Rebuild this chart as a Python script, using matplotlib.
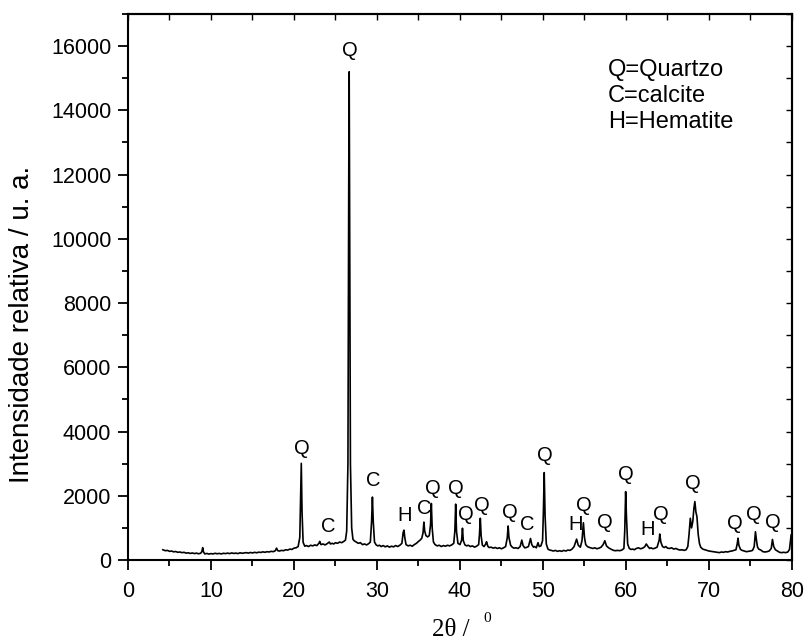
import matplotlib
matplotlib.use('Agg')
import matplotlib.pyplot as plt
import numpy as np
from matplotlib.ticker import MultipleLocator

# XRD pattern (2theta in degrees, intensity in a.u.)
two_theta = [
    4.2, 4.5, 4.75, 5.0, 5.25, 5.5, 5.75, 6.0, 6.25, 6.5, 6.75, 7.0, 7.25, 7.5, 7.75,
    8.0, 8.25, 8.5, 8.75, 8.9, 9.0, 9.1, 9.25, 9.5, 9.75, 10.0, 10.25, 10.5, 10.75,
    11.0, 11.25, 11.5, 11.75, 12.0, 12.25, 12.5, 12.75, 13.0, 13.25, 13.5, 13.75,
    14.0, 14.25, 14.5, 14.75, 15.0, 15.25, 15.5, 15.75, 16.0, 16.25, 16.5, 16.75,
    17.0, 17.25, 17.5, 17.75, 17.9, 18.05, 18.25, 18.5, 18.75, 19.0, 19.25, 19.5,
    19.75, 20.0, 20.25, 20.5, 20.7, 20.8, 20.88, 20.97, 21.1, 21.3, 21.5, 21.75,
    22.0, 22.25, 22.5, 22.75, 23.0, 23.1, 23.25, 23.5, 23.75, 24.0, 24.25, 24.4,
    24.6, 24.8, 25.0, 25.25, 25.5, 25.75, 26.0, 26.2, 26.35, 26.5, 26.6, 26.65,
    26.72, 26.8, 26.95, 27.1, 27.25, 27.5, 27.75, 28.0, 28.25, 28.5, 28.75, 29.0,
    29.2, 29.35, 29.45, 29.55, 29.7, 29.9, 30.1, 30.3, 30.5, 30.75, 31.0, 31.25,
    31.5, 31.75, 32.0, 32.25, 32.5, 32.75, 33.0, 33.15, 33.25, 33.35, 33.5, 33.75,
    34.0, 34.25, 34.5, 34.75, 35.0, 35.2, 35.4, 35.55, 35.65, 35.75, 35.9, 36.1,
    36.3, 36.45, 36.55, 36.65, 36.8, 37.0, 37.25, 37.5, 37.75, 38.0, 38.25, 38.5,
    38.75, 39.0, 39.25, 39.38, 39.48, 39.58, 39.75, 40.0, 40.2, 40.3, 40.4, 40.6,
    40.8, 41.0, 41.25, 41.5, 41.75, 42.0, 42.25, 42.35, 42.45, 42.55, 42.7, 42.9,
    43.1, 43.2, 43.35, 43.5, 43.75, 44.0, 44.25, 44.5, 44.75, 45.0, 45.25, 45.5,
    45.7, 45.8, 45.9, 46.1, 46.3, 46.5, 46.75, 47.0, 47.25, 47.45, 47.6, 47.8,
    48.0, 48.25, 48.5, 48.65, 48.85, 49.0, 49.2, 49.4, 49.55, 49.75, 49.95, 50.05,
    50.15, 50.25, 50.4, 50.6, 50.8, 51.0, 51.25, 51.5, 51.75, 52.0, 52.25, 52.5,
    52.75, 53.0, 53.25, 53.5, 53.75, 54.05, 54.25, 54.5, 54.7, 54.87, 55.0, 55.15,
    55.35, 55.5, 55.75, 56.0, 56.25, 56.5, 56.75, 57.0, 57.25, 57.45, 57.65, 57.9,
    58.25, 58.5, 58.75, 59.0, 59.25, 59.5, 59.75, 59.85, 59.96, 60.05, 60.2, 60.4,
    60.6, 60.8, 61.0, 61.25, 61.5, 61.75, 62.0, 62.25, 62.45, 62.65, 62.85, 63.0,
    63.25, 63.5, 63.75, 64.0, 64.07, 64.2, 64.4, 64.6, 64.8, 65.0, 65.25, 65.5,
    65.75, 66.0, 66.25, 66.5, 66.75, 67.0, 67.25, 67.45, 67.6, 67.75, 67.9, 68.05,
    68.18, 68.3, 68.42, 68.55, 68.7, 68.85, 69.0, 69.25, 69.5, 69.75, 70.0, 70.25,
    70.5, 70.75, 71.0, 71.25, 71.5, 71.75, 72.0, 72.25, 72.5, 72.75, 73.0, 73.25,
    73.4, 73.5, 73.6, 73.8, 74.0, 74.25, 74.5, 74.75, 75.0, 75.25, 75.45, 75.6,
    75.72, 75.85, 76.0, 76.25, 76.5, 76.75, 77.0, 77.25, 77.5, 77.65, 77.8, 78.0,
    78.25, 78.5, 78.75, 79.0, 79.25, 79.5, 79.7, 79.9,
]
intensity = [
    320, 290, 300, 270, 280, 255, 265, 240, 250, 230, 240, 215, 225, 205, 220,
    200, 215, 195, 210, 260, 385, 250, 190, 205, 185, 200, 190, 210, 195,
    205, 190, 210, 200, 215, 200, 220, 205, 215, 200, 225, 210,
    220, 230, 215, 235, 220, 240, 225, 245, 235, 255, 240, 260,
    250, 270, 260, 290, 370, 290, 280, 300, 290, 320, 310, 340,
    330, 370, 380, 420, 700, 1900, 3010, 1500, 550, 430, 450, 420,
    460, 440, 470, 450, 520, 580, 480, 500, 470, 510, 560, 500,
    520, 500, 540, 520, 560, 540, 580, 620, 900, 3000, 12000, 15200,
    9000, 3000, 1000, 650, 600, 560, 520, 540, 480, 500, 470, 510,
    560, 1200, 1960, 1200, 560, 470, 440, 460, 420, 450, 410, 440,
    400, 430, 410, 450, 420, 460, 520, 850, 930, 700, 480, 440,
    460, 430, 480, 520, 580, 620, 680, 850, 1180, 900, 760, 720,
    760, 1100, 1760, 1000, 560, 480, 440, 460, 420, 450, 430, 460,
    440, 470, 520, 900, 1740, 900, 520, 480, 620, 990, 600, 470,
    440, 460, 420, 440, 400, 430, 480, 800, 1300, 750, 460, 420,
    500, 570, 430, 390, 400, 370, 390, 360, 380, 350, 380, 420,
    700, 1060, 700, 460, 400, 370, 380, 360, 420, 620, 450, 380,
    390, 420, 670, 480, 400, 420, 380, 540, 420, 440, 600, 1500,
    2720, 1400, 500, 340, 310, 300, 280, 300, 270, 290, 270, 300,
    280, 310, 300, 340, 420, 650, 460, 400, 600, 1160, 700, 480,
    420, 400, 380, 360, 380, 350, 370, 400, 480, 600, 440, 380,
    330, 300, 290, 300, 290, 310, 360, 900, 2130, 1400, 500, 360,
    330, 340, 320, 360, 380, 350, 370, 410, 500, 420, 360, 380,
    350, 370, 400, 620, 810, 560, 420, 390, 420, 370, 360, 380,
    340, 360, 330, 310, 320, 300, 320, 420, 800, 1300, 1000, 1200,
    1600, 1820, 1500, 1350, 800, 520, 400, 340, 320, 300, 280, 270,
    260, 250, 240, 230, 250, 240, 260, 250, 270, 280, 300, 320,
    500, 680, 460, 330, 300, 280, 260, 270, 280, 300, 420, 880,
    620, 400, 340, 310, 260, 250, 260, 280, 360, 640, 420, 320,
    280, 240, 230, 240, 230, 250, 330, 780,
]

# phase labels on the peaks
label_text = ['Q', 'C', 'Q', 'C', 'H', 'C', 'Q', 'Q', 'Q', 'Q', 'Q', 'C', 'Q',
              'H', 'Q', 'Q', 'Q', 'H', 'Q', 'Q', 'Q', 'Q', 'Q']
label_x = [20.9, 24.1, 26.75, 29.55, 33.3, 35.7, 36.7, 39.45, 40.7, 42.6, 46.0, 48.1,
           50.2, 53.9, 54.9, 57.4, 60.0, 62.6, 64.2, 68.1, 73.1, 75.4, 77.7]
label_y = [3485, 1040, 15860, 2465, 1383, 1613, 2237, 2237, 1404, 1685, 1476, 1092,
           3245, 1092, 1685, 1164, 2652, 936, 1404, 2371, 1145, 1404, 1164]

key_lines = ['Q=Quartzo', 'C=calcite', 'H=Hematite']

sans = 'Liberation Sans'
serif = 'Liberation Serif'

fig = plt.figure(figsize=(8.06, 6.44), dpi=100)
ax = fig.add_axes([0.1588, 0.1304, 0.8238, 0.8479])

ax.plot(two_theta, intensity, color='black', linewidth=1.2)

for t, x, y in zip(label_text, label_x, label_y):
    ax.text(x, y, t, ha='center', va='center', fontsize=14.5, family=sans)

ax.text(57.8, 14450, '\n'.join(key_lines), ha='left', va='center', fontsize=17,
        family=sans, linespacing=1.22)

ax.set_xlim(0, 80)
ax.set_ylim(0, 17000)
ax.xaxis.set_major_locator(MultipleLocator(10))
ax.xaxis.set_minor_locator(MultipleLocator(5))
ax.yaxis.set_major_locator(MultipleLocator(2000))
ax.yaxis.set_minor_locator(MultipleLocator(1000))

for s in ax.spines.values():
    s.set_linewidth(1.5)

ax.tick_params(which='major', direction='out', length=7, width=1.3, labelsize=15.5,
               top=False, right=False)
ax.tick_params(axis='x', which='major', pad=8)
ax.tick_params(axis='y', which='major', pad=5)
ax.tick_params(which='minor', direction='out', length=4, width=1.3,
               top=False, right=False)
for lab in ax.get_xticklabels() + ax.get_yticklabels():
    lab.set_family(sans)

# mirrored inward ticks on top and right
sec_x = ax.secondary_xaxis('top')
sec_x.xaxis.set_major_locator(MultipleLocator(5))
sec_x.tick_params(direction='in', length=4, width=1.0, labeltop=False)
sec_y = ax.secondary_yaxis('right')
sec_y.yaxis.set_major_locator(MultipleLocator(1000))
sec_y.tick_params(direction='in', length=4, width=1.0, labelright=False)
sec_x.spines['top'].set_linewidth(1.5)
sec_y.spines['right'].set_linewidth(1.5)

ax.set_ylabel('Intensidade relativa / u. a.', fontsize=20, family=sans)
ax.yaxis.set_label_coords(-0.14, 0.432)

fig.text(0.5596, 0.022, '2θ /', fontsize=18, family=serif, ha='center', va='center')
fig.text(0.604, 0.039, '0', fontsize=11, family=serif, ha='center', va='center')

fig.savefig('out.png', dpi=100)
